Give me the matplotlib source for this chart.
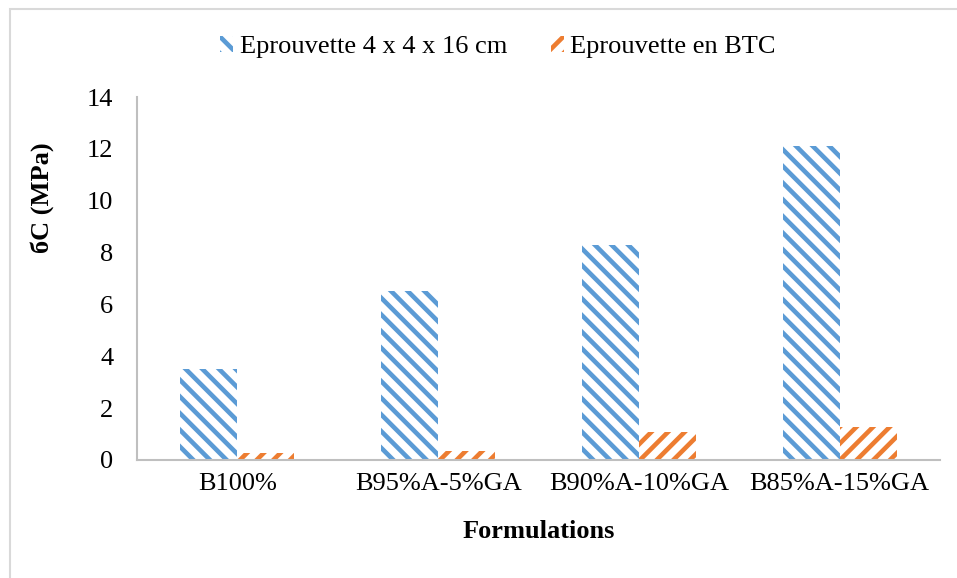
import matplotlib
matplotlib.use("Agg")
import matplotlib.pyplot as plt
from matplotlib.patches import Rectangle
import numpy as np

categories = ["B100%", "B95%A-5%GA", "B90%A-10%GA", "B85%A-15%GA"]
eprouvette_4x4x16 = [3.5, 6.5, 8.3, 12.1]
eprouvette_btc = [0.28, 0.35, 1.07, 1.27]
series_names = ["Eprouvette 4 x 4 x 16 cm", "Eprouvette en BTC"]
yticks = [0, 2, 4, 6, 8, 10, 12, 14]

plt.rcParams['font.family'] = ['Liberation Serif', 'DejaVu Serif']
plt.rcParams['hatch.linewidth'] = 3.3

W, H = 957, 578
fig = plt.figure(figsize=(W / 100, H / 100), dpi=100)
fig.patch.set_facecolor('white')

# outer border
fig.add_artist(Rectangle((10 / W, -0.05), 1.1, 1 - 9 / H + 0.05, transform=fig.transFigure,
                         fill=False, edgecolor='#D9D9D9', linewidth=1.5))

ax = fig.add_axes([137 / W, (H - 460) / H, (940 - 137) / W, (460 - 97) / H])

blue = '#5B9BD5'
orange = '#ED7D31'
x = np.arange(len(categories))
bw = 0.284
b1 = ax.bar(x - bw / 2, eprouvette_4x4x16, bw, facecolor='white', edgecolor=blue,
            hatch='\\\\', linewidth=0, label=series_names[0])
b2 = ax.bar(x + bw / 2, eprouvette_btc, bw, facecolor='white', edgecolor=orange,
            hatch='//', linewidth=0, label=series_names[1])

ax.set_xlim(-0.5, len(categories) - 0.5)
ax.set_ylim(0, 14)
ax.set_yticks(yticks)
ax.set_xticks(x)
ax.set_xticklabels(categories)
ax.tick_params(axis='both', length=0, labelsize=19, colors='black')
ax.tick_params(axis='y', pad=17)
ax.tick_params(axis='x', pad=9)

for s in ['top', 'right']:
    ax.spines[s].set_visible(False)
for s in ['left', 'bottom']:
    ax.spines[s].set_color('#BFBFBF')
    ax.spines[s].set_linewidth(1.5)

ax.set_xlabel('Formulations', fontsize=19, fontweight='bold')
ax.xaxis.set_label_coords(0.5, -(531 - 460) / (460 - 97), transform=ax.transAxes)
ax.xaxis.label.set_va('center')
ax.set_ylabel('бC (MPa)', fontsize=19, fontweight='bold')
ax.yaxis.set_label_coords(-(137 - 42) / (940 - 137), (460 - 198) / (460 - 97))
ax.yaxis.label.set_va('center')

leg = fig.legend(handles=[b1, b2], loc='center', bbox_to_anchor=(498 / W, (H - 47) / H),
                 ncol=2, frameon=False, fontsize=19, handlelength=0.5, handleheight=0.6,
                 handletextpad=0.25, columnspacing=1.65)

fig.savefig('out.png', dpi=100)
